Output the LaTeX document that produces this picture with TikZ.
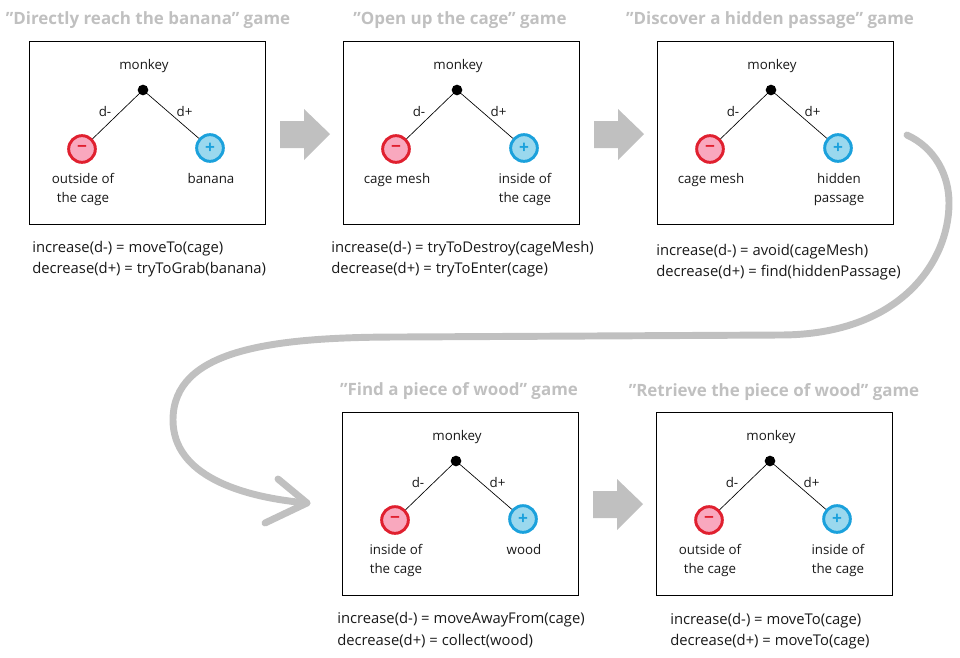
\documentclass[tikz,border=0pt]{standalone}
\usepackage{fontspec}
\setmainfont{Open Sans}
\definecolor{palegrey}{HTML}{C0C0C0}
\definecolor{negline}{HTML}{E0202F}
\definecolor{negfill}{HTML}{F9A8BE}
\definecolor{posline}{HTML}{1BA1DC}
\definecolor{posfill}{HTML}{9AD8EE}
\tikzset{
  caption/.style={font=\fontsize{10}{14}\selectfont,align=center,text=black!90,inner sep=0pt},
  codetext/.style={font=\fontsize{11.1}{16}\selectfont,align=left,anchor=west,text=black!90,inner sep=0pt},
  gametitle/.style={font=\fontsize{12.7}{13}\selectfont\bfseries,text=palegrey,inner sep=0pt},
  negball/.style={circle,draw=negline,fill=negfill,line width=2.2pt,minimum size=20pt,inner sep=0pt,
    text=negline,font=\fontsize{13}{13}\selectfont\bfseries},
  posball/.style={circle,draw=posline,fill=posfill,line width=2.2pt,minimum size=20pt,inner sep=0pt,
    text=posline,font=\fontsize{13}{13}\selectfont\bfseries},
  block/.style={fill=palegrey,draw=none},
  bigcurve/.style={palegrey,line width=5.2pt,line cap=round,line join=round},
}
\newcommand*{\gamebox}[5]{
\begin{scope}[shift={(#2,#3)}]
\node[draw=black,line width=.75pt,minimum width=177pt,minimum height=137.25pt,inner sep=0pt] (#1box) at (147,132.5) {};
\node[caption] (#1name) at (144,66) {monkey};
\node[circle,fill=black,minimum size=8pt,inner sep=0pt] (#1top) at (143,90) {};
\node[negball] (#1neg) at (82,149) {−};
\node[posball] (#1pos) at (210,148) {+};
\draw[line width=.5pt] (#1top) -- (#1neg);
\draw[line width=.5pt] (#1top) -- (#1pos);
\node[caption] (#1dneg) at (105,111) {d-};
\node[caption] (#1dpos) at (184.5,111) {d+};
\node[caption,anchor=north] (#1lneg) at (83,173.5) {#4};
\node[caption,anchor=north] (#1lpos) at (211,173.5) {#5};
\end{scope}
}
\newcommand*{\blockarrow}[2]{
\fill[block] (#1,#2) ++(0,-13) -- ++(24,0) -- ++(0,-12) -- ++(26,25) -- ++(-26,26) -- ++(0,-12) -- ++(-24,0) -- cycle;
}

\begin{document}
\begin{tikzpicture}[x=.75pt,y=-.75pt]
\useasboundingbox (0,0) rectangle (960,657);
\node[gametitle] (title1) at (148,20) {"Directly reach the banana" game};
\node[gametitle] (title2) at (460,20) {"Open up the cage" game};
\node[gametitle] (title3) at (770,20) {"Discover a hidden passage" game};
\node[gametitle] (title4) at (459,391) {"Find a piece of wood" game};
\node[gametitle] (title5) at (774,392) {"Retrieve the piece of wood" game};

\gamebox{a}{0}{0}{outside of\\the cage}{banana}
\gamebox{b}{314}{0}{cage mesh}{inside of\\the cage}
\gamebox{c}{628}{0}{cage mesh}{hidden\\passage}
\gamebox{d}{313}{371}{inside of\\the cage}{wood}
\gamebox{e}{627}{371}{outside of\\the cage}{inside of\\the cage}

\node[codetext] (code1) at (32,259) {increase(d-) = moveTo(cage)\\decrease(d+) = tryToGrab(banana)};
\node[codetext] (code2) at (331,259) {increase(d-) = tryToDestroy(cageMesh)\\decrease(d+) = tryToEnter(cage)};
\node[codetext] (code3) at (656,262) {increase(d-) = avoid(cageMesh)\\decrease(d+) = find(hiddenPassage)};
\node[codetext] (code4) at (337,630) {increase(d-) = moveAwayFrom(cage)\\decrease(d+) = collect(wood)};
\node[codetext] (code5) at (670,631) {increase(d-) = moveTo(cage)\\decrease(d+) = moveTo(cage)};

\blockarrow{280}{134}
\blockarrow{594}{134}
\blockarrow{593}{504}

% long way round, from the top row to the bottom row
\coordinate (start) at (907,135);
\coordinate (tip) at (307,503);
\draw[bigcurve]
  (start) .. controls (935,148) and (949,175) .. (949,203)
  .. controls (949,262) and (900,335) .. (780,335)
  -- (400,337)
  .. controls (270,337) and (173,350) .. (173,420)
  .. controls (173,475) and (240,497) .. (tip);
\draw[bigcurve] (278,479) -- (tip) -- (265,523);
\end{tikzpicture}
\end{document}
